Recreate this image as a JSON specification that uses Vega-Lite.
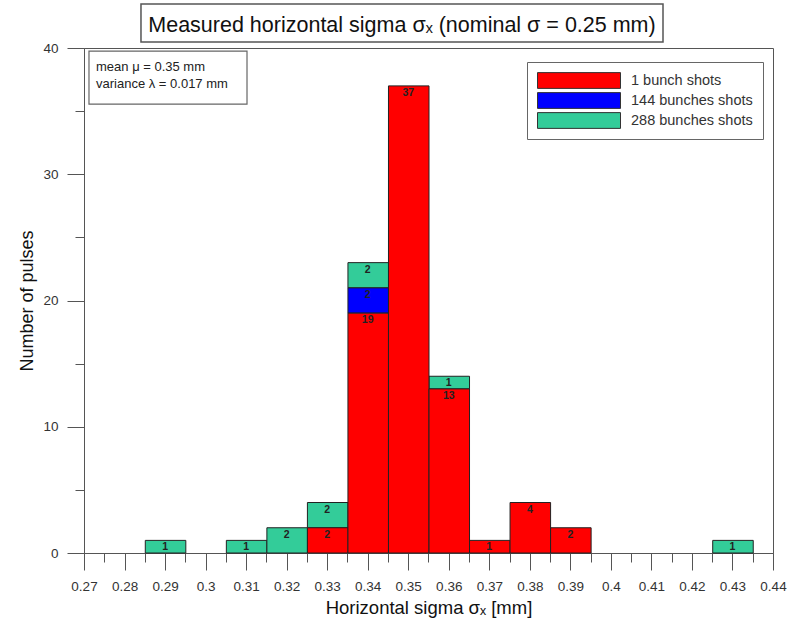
{
  "$schema": "https://vega.github.io/schema/vega-lite/v6.json",
  "width": 689,
  "height": 505,
  "autosize": {"type": "none"},
  "padding": {"left": 84, "top": 48, "right": 26, "bottom": 71},
  "background": "white",
  "config": {
    "font": "Liberation Sans",
    "view": {"stroke": "#555", "strokeWidth": 1},
    "axis": {"domainColor": "#555", "tickColor": "#555", "labelColor": "#333", "titleColor": "#111", "labelFont": "Liberation Sans", "titleFont": "Liberation Sans", "titleFontWeight": "normal", "grid": false}
  },
  "data": {
    "values": [
      {"series": "288 bunches shots", "sigma": 0.29, "n": 1},
      {"series": "288 bunches shots", "sigma": 0.31, "n": 1},
      {"series": "288 bunches shots", "sigma": 0.32, "n": 2},
      {"series": "288 bunches shots", "sigma": 0.33, "n": 2},
      {"series": "288 bunches shots", "sigma": 0.34, "n": 2},
      {"series": "288 bunches shots", "sigma": 0.36, "n": 1},
      {"series": "288 bunches shots", "sigma": 0.43, "n": 1},
      {"series": "144 bunches shots", "sigma": 0.34, "n": 2},
      {"series": "1 bunch shots", "sigma": 0.33, "n": 2},
      {"series": "1 bunch shots", "sigma": 0.34, "n": 19},
      {"series": "1 bunch shots", "sigma": 0.35, "n": 37},
      {"series": "1 bunch shots", "sigma": 0.36, "n": 13},
      {"series": "1 bunch shots", "sigma": 0.37, "n": 1},
      {"series": "1 bunch shots", "sigma": 0.38, "n": 4},
      {"series": "1 bunch shots", "sigma": 0.39, "n": 2}
    ]
  },
  "resolve": {"axis": {"x": "independent", "y": "independent"}},
  "layer": [
    {
      "mark": {"type": "bar", "stroke": "#222", "strokeWidth": 1, "binSpacing": 0},
      "encoding": {
        "x": {
          "field": "sigma", "type": "quantitative",
          "bin": {"step": 0.01, "anchor": 0.285, "extent": [0.265, 0.445]},
          "scale": {"domain": [0.27, 0.44], "nice": false, "zero": false},
          "axis": {
            "orient": "bottom",
            "values": [0.27,0.28,0.29,0.3,0.31,0.32,0.33,0.34,0.35,0.36,0.37,0.38,0.39,0.4,0.41,0.42,0.43,0.44],
            "format": ".2~f", "tickSize": 17, "labelFontSize": 13.5, "labelPadding": 9,
            "labelOverlap": false, "labelFlush": false,
            "title": "Horizontal sigma σₓ [mm]", "titleFontSize": 18.5, "titlePadding": 6
          }
        },
        "y": {
          "aggregate": "sum", "field": "n", "type": "quantitative", "stack": "zero",
          "scale": {"domain": [0, 40], "nice": false},
          "axis": {
            "orient": "left",
            "values": [0, 10, 20, 30, 40], "tickSize": 17, "labelFontSize": 13.5, "labelPadding": 9,
            "title": "Number of pulses", "titleFontSize": 18, "titlePadding": 6
          }
        },
        "color": {
          "field": "series", "type": "nominal",
          "scale": {"domain": ["1 bunch shots", "144 bunches shots", "288 bunches shots"], "range": ["#ff0000", "#0000ff", "#33cc99"]},
          "legend": {
            "orient": "none", "legendX": 443, "legendY": 14, "title": null,
            "symbolType": "M-1,-0.19H1V0.19H-1Z", "symbolSize": 6889,
            "symbolStrokeColor": "#333", "symbolStrokeWidth": 1, "symbolOpacity": 1,
            "labelFontSize": 14.5, "labelFont": "Liberation Sans", "labelColor": "#333",
            "padding": 10, "strokeColor": "#666", "fillColor": "white",
            "rowPadding": 3, "clipHeight": 17, "labelOffset": 10
          }
        },
        "order": {"field": "series", "sort": "ascending"}
      }
    },
    {
      "mark": {"type": "text", "fontSize": 10.5, "fontWeight": "bold", "color": "#222", "baseline": "top", "dy": 2},
      "encoding": {
        "x": {"field": "sigma", "type": "quantitative", "bin": {"step": 0.01, "anchor": 0.285, "extent": [0.265, 0.445]}, "axis": null},
        "y": {"aggregate": "sum", "field": "n", "type": "quantitative", "stack": "zero", "axis": null},
        "detail": {"field": "series", "type": "nominal"},
        "order": {"field": "series", "sort": "ascending"},
        "text": {"aggregate": "sum", "field": "n", "type": "quantitative"}
      }
    },
    {
      "data": {"values": [{}]},
      "mark": {"type": "rule", "opacity": 0},
      "encoding": {
        "x": {"datum": 0.3, "type": "quantitative", "axis": {"orient": "bottom", "values": [0.275,0.285,0.295,0.305,0.315,0.325,0.335,0.345,0.355,0.365,0.375,0.385,0.395,0.405,0.415,0.425,0.435], "tickSize": 9, "labels": false, "domain": false, "title": null}},
        "y": {"datum": 10, "type": "quantitative", "axis": {"orient": "left", "values": [5, 15, 25, 35], "tickSize": 9, "labels": false, "domain": false, "title": null}}
      }
    },
    {
      "data": {"values": [{}]},
      "mark": {"type": "rect", "fill": "white", "stroke": "#666", "strokeWidth": 1.2},
      "encoding": {
        "x": {"datum": 0.27123, "type": "quantitative", "axis": null},
        "x2": {"datum": 0.31022},
        "y": {"datum": 39.76, "type": "quantitative", "axis": null},
        "y2": {"datum": 35.56}
      }
    },
    {
      "data": {"values": [{}]},
      "mark": {"type": "text", "text": ["mean μ = 0.35 mm", "variance λ = 0.017 mm"], "align": "left", "baseline": "top", "fontSize": 13, "lineHeight": 17, "color": "#222"},
      "encoding": {
        "x": {"datum": 0.27296, "type": "quantitative", "axis": null},
        "y": {"datum": 38.95, "type": "quantitative", "axis": null}
      }
    },
    {
      "data": {"values": [{}]},
      "mark": {"type": "rect", "fill": "white", "stroke": "#555", "strokeWidth": 1.5},
      "encoding": {
        "x": {"datum": 0.28406, "type": "quantitative", "axis": null},
        "x2": {"datum": 0.41286},
        "y": {"datum": 43.485, "type": "quantitative", "axis": null},
        "y2": {"datum": 40.475}
      }
    },
    {
      "data": {"values": [{}]},
      "mark": {"type": "text", "text": "Measured horizontal sigma σₓ (nominal  σ = 0.25 mm)", "align": "center", "baseline": "alphabetic", "fontSize": 21.5, "color": "#111"},
      "encoding": {
        "x": {"datum": 0.34846, "type": "quantitative", "axis": null},
        "y": {"datum": 41.3, "type": "quantitative", "axis": null}
      }
    }
  ]
}
